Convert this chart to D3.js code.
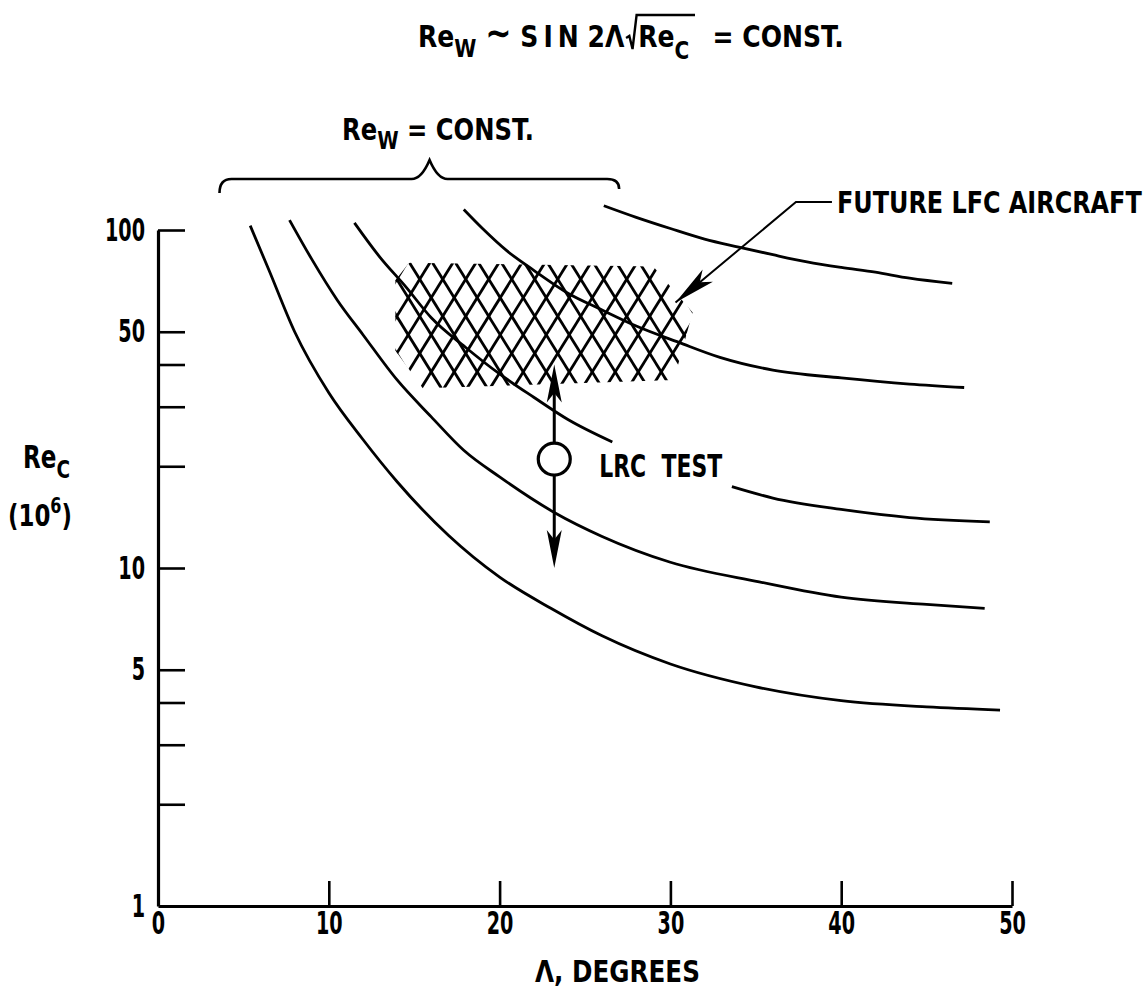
<!DOCTYPE html>
<html>
<head>
<meta charset="utf-8">
<script src="https://cdn.jsdelivr.net/npm/d3@7"></script>
<style>
  body { margin: 0; background: #fff; }
  svg { display: block; background: #fff; }
  text { font-family: "DejaVu Sans", sans-serif; font-weight: bold; fill: #000; white-space: pre; }
</style>
</head>
<body>
<svg id="chart" width="1147" height="995"></svg>
<script>
////////////////////////////////////////////////////////////////////////////////////
// Data
var xTicks = [0, 10, 20, 30, 40, 50];
var yTicks = [1, 2, 3, 4, 5, 10, 20, 30, 40, 50, 100];
var yLabels = [1, 5, 10, 50, 100];

// Re_W = const. curves : [sweep (deg), Re_c (10^6)]
var curve1 = [[5.4,103],[6.5,76],[8,50],[10,33],[12,24],[14,18],[17,12.5],[20,9.4],[23,7.6],[26,6.3],[30,5.2],[35,4.45],[40,4.05],[45,3.88],[49.3,3.8]];
var curve2 = [[7.7,107],[9,82],[10.5,62],[12,49],[14,36],[16,28],[17.9,22.3],[20,18.6],[23.2,14.6],[26,12.4],[30,10.4],[35.2,9.1],[40,8.2],[45,7.8],[48.4,7.6]];
var curve3a = [[11.5,105],[13,83],[14.5,68],[16,55],[18,45],[20,37.5],[22,32],[24,27.5],[26.6,23.6]];
var curve3b = [[33.6,17.4],[36,16.1],[40,14.9],[44,14.1],[48.7,13.7]];
var curve4 = [[17.9,115],[19,101],[20.4,87],[22,76],[24,65],[26,58],[28,52],[30.5,46.5],[32.9,42],[36,38.5],[40,36.5],[44,35],[47.2,34.2]];
var curve5 = [[26.1,118],[28,109],[30,101],[32,94],[34,89],[36,84.5],[38,80.5],[40,77.5],[42,75],[44,72],[46.5,69.5]];
var curves = [curve1, curve2, curve3a, curve3b, curve4, curve5];

// Future LFC aircraft region (hatched)
var lfcRegion = [[14.7,80],[29.0,78],[31.3,57],[30.2,36],[15.5,34],[13.9,44],[13.9,71]];
var lfcArrowTip = [30.3, 61];
var lfcElbow = [37.35, 121];

// LRC test point and range
var lrcSweep = 23.2;
var lrcPoint = 21;
var lrcRange = [10, 40];

// Brace over curves
var braceSpan = [3.6, 15.9, 27.0];

////////////////////////////////////////////////////////////////////////////////////
var svg = d3.select("#chart");
var x = d3.scaleLinear().domain([0, 50]).range([158, 1012]);
var y = d3.scaleLog().domain([1, 100]).range([906, 230]);
var squeeze = 0.6;

// text made of runs (sub/superscripts), squeezed to a given width
function runText(px, py, width, size, parts) {
  var g = svg.append("g");
  var cx = 0;
  parts.forEach(function(p) {
    if (p.gap) { p.x0 = cx; cx += p.gap; p.x1 = cx; return; }
    var t = g.append("text")
             .attr("x", cx)
             .attr("y", p.dy || 0)
             .style("font-size", (size * (p.s || 1)) + "px")
             .text(p.t);
    p.x0 = cx;
    cx += t.node().getComputedTextLength();
    p.x1 = cx;
  });
  g.attr("transform", "translate(" + px + "," + py + ") scale(" + (width / cx) + ",1)");
  return g;
}

function arrowHead(tip, from, len, hw) {
  var dx = tip[0] - from[0], dy = tip[1] - from[1];
  var L = Math.sqrt(dx*dx + dy*dy);
  var ux = dx / L, uy = dy / L;
  var bx = tip[0] - ux*len, by = tip[1] - uy*len;
  svg.append("path")
     .attr("d", "M" + tip[0] + "," + tip[1] +
                "L" + (bx - uy*hw) + "," + (by + ux*hw) +
                "L" + (tip[0] - ux*len*0.75) + "," + (tip[1] - uy*len*0.75) +
                "L" + (bx + uy*hw) + "," + (by - ux*hw) + "Z")
     .attr("fill", "#000");
}

// Axes
var xAxis = d3.axisBottom(x).tickValues(xTicks).tickSize(-25).tickSizeOuter(0).tickPadding(5).tickFormat(d3.format("d"));
var gx = svg.append("g").attr("transform", "translate(0," + y(1) + ")").call(xAxis);
gx.attr("font-size", null).attr("font-family", null);
gx.select(".domain").attr("stroke-width", 3.2);
gx.selectAll(".tick line").attr("stroke-width", 2.6);
gx.selectAll(".tick").filter(function(d) { return d === 0; }).select("line").remove();
gx.selectAll(".tick text").style("font-size", "32px").attr("transform", "scale(" + squeeze + ",1)");

var yAxis = d3.axisLeft(y).tickValues(yTicks).tickSize(-27).tickSizeOuter(0).tickPadding(13)
              .tickFormat(function(d) { return yLabels.includes(d) ? d : ""; });
var gy = svg.append("g").attr("transform", "translate(" + x(0) + ",0)").call(yAxis);
gy.attr("font-size", null).attr("font-family", null);
gy.select(".domain").attr("stroke-width", 3.2);
gy.selectAll(".tick line").attr("stroke-width", 2.6);
gy.selectAll(".tick").filter(function(d) { return d === 1; }).select("line").remove();
gy.selectAll(".tick text").style("font-size", "32px").attr("x", -13 / squeeze)
  .attr("transform", "scale(" + squeeze + ",1)");

// Curves
var line = d3.line()
             .x(function(d) { return x(d[0]); })
             .y(function(d) { return y(d[1]); })
             .curve(d3.curveMonotoneX);
svg.selectAll(".curve")
   .data(curves)
   .enter()
   .append("path")
   .attr("class", "curve")
   .attr("d", line)
   .attr("fill", "none")
   .attr("stroke", "#000")
   .attr("stroke-width", 2.8);

// Hatched region
var regionPx = lfcRegion.map(function(d) { return [x(d[0]), y(d[1])]; });
svg.append("clipPath").attr("id", "lfcClip")
   .append("polygon")
   .attr("points", regionPx.map(function(p) { return p.join(","); }).join(" "));
var x0 = d3.min(regionPx, function(p) { return p[0]; }), x1 = d3.max(regionPx, function(p) { return p[0]; });
var y0 = d3.min(regionPx, function(p) { return p[1]; }), y1 = d3.max(regionPx, function(p) { return p[1]; });
var slope = 0.62, spacing = 23, hh = y1 - y0;
var hatch = [];
for (var sx = x0 - slope*hh - spacing; sx < x1 + spacing; sx += spacing) {
  hatch.push([sx, y0, sx + slope*hh, y1]);
  hatch.push([sx + spacing/2 + slope*hh, y0, sx + spacing/2, y1]);
}
svg.append("g").attr("clip-path", "url(#lfcClip)")
   .selectAll("line")
   .data(hatch)
   .enter()
   .append("line")
   .attr("x1", function(d) { return d[0]; })
   .attr("y1", function(d) { return d[1]; })
   .attr("x2", function(d) { return d[2]; })
   .attr("y2", function(d) { return d[3]; })
   .attr("stroke", "#000")
   .attr("stroke-width", 2.8);

// Future LFC aircraft leader
var tip = [x(lfcArrowTip[0]), y(lfcArrowTip[1])];
var elbow = [x(lfcElbow[0]), y(lfcElbow[1])];
svg.append("path")
   .attr("d", "M" + (elbow[0] + 36) + "," + elbow[1] + "L" + elbow[0] + "," + elbow[1] + "L" + tip[0] + "," + tip[1])
   .attr("fill", "none").attr("stroke", "#000").attr("stroke-width", 2);
arrowHead(tip, elbow, 42, 8);
runText(elbow[0] + 41, elbow[1] + 11, 305, 30, [{t: "FUTURE LFC AIRCRAFT"}]);

// LRC test
var lx = x(lrcSweep);
svg.append("line")
   .attr("x1", lx).attr("x2", lx)
   .attr("y1", y(lrcRange[0]) - 20).attr("y2", y(lrcRange[1]) + 20)
   .attr("stroke", "#000").attr("stroke-width", 3);
arrowHead([lx, y(lrcRange[1])], [lx, y(lrcRange[0])], 38, 7.5);
arrowHead([lx, y(lrcRange[0])], [lx, y(lrcRange[1])], 38, 7.5);
svg.append("circle")
   .attr("cx", lx).attr("cy", y(lrcPoint)).attr("r", 16)
   .attr("fill", "#fff").attr("stroke", "#000").attr("stroke-width", 3.2);
runText(lx + 45, y(lrcPoint) + 18, 123, 32, [{t: "LRC  TEST"}]);

// Brace
var bl = x(braceSpan[0]), bm = x(braceSpan[1]), br = x(braceSpan[2]), by = 179;
svg.append("path")
   .attr("d", "M" + bl + "," + (by + 14) + "Q" + bl + "," + by + " " + (bl + 12) + "," + by +
              "L" + (bm - 18) + "," + by + "Q" + (bm - 8) + "," + by + " " + bm + "," + (by - 19) +
              "Q" + (bm + 8) + "," + by + " " + (bm + 18) + "," + by +
              "L" + (br - 12) + "," + by + "Q" + br + "," + by + " " + br + "," + (by + 10))
   .attr("fill", "none").attr("stroke", "#000").attr("stroke-width", 2.6);
runText(342, 140, 192, 31, [{t: "Re"}, {t: "W", s: 0.8, dy: 9}, {t: " = CONST."}]);

// Title: Re_W ~ SIN 2Λ √(Re_C) = CONST.
var tParts = [{t: "Re"}, {t: "W", s: 0.8, dy: 10}, {t: " "}, {t: "\u223C", s: 1.25, dy: -1},
              {t: " S\u2009I\u2009N 2"}, {t: "\u039B"}, {gap: 17},
              {t: "Re"}, {t: "C", s: 0.8, dy: 12}, {gap: 7}, {t: "  = CONST."}];
var tg = runText(418, 47, 426, 31, tParts);
var r0 = tParts[6].x0, rEnd = tParts[9].x1;
tg.append("path")
  .attr("d", "M" + (r0 + 2) + ",-9 L" + (r0 + 6) + ",-11 L" + (r0 + 10) + ",2 L" + (r0 + 15) + ",-32 L" + rEnd + ",-32")
  .attr("fill", "none").attr("stroke", "#000").attr("stroke-width", 2.4)
  .attr("vector-effect", "non-scaling-stroke");

// Axis titles
runText(23, 468, 47, 32, [{t: "Re"}, {t: "C", s: 0.8, dy: 10}]);
runText(8, 526, 64, 31, [{t: "(10"}, {t: "6", s: 0.7, dy: -13}, {t: ")"}]);
runText(535, 982, 165, 30, [{t: "\u039B, DEGREES"}]);
</script>
</body>
</html>
